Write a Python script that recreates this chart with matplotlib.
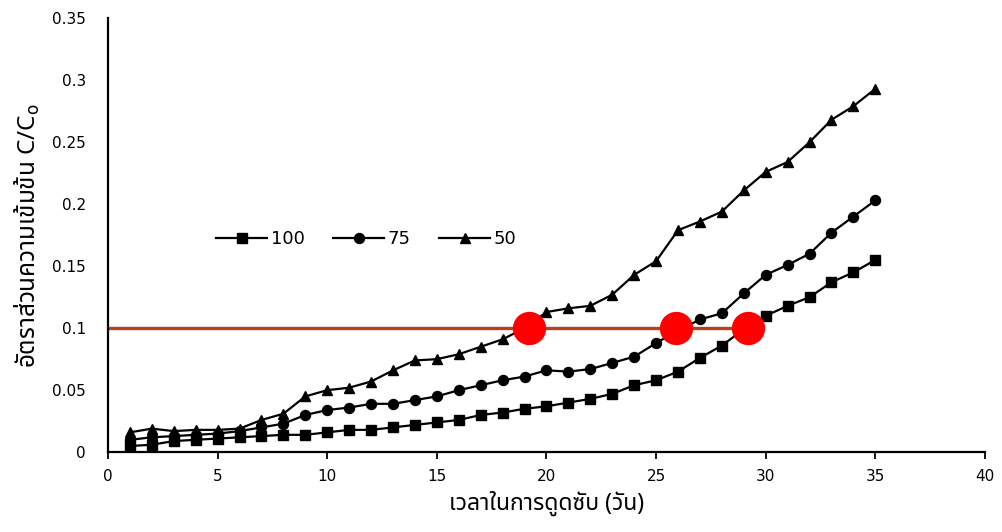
import matplotlib
matplotlib.use("Agg")
import matplotlib.pyplot as plt

plt.rcParams["font.family"] = ["DejaVu Sans"]
plt.rcParams["mathtext.fontset"] = "dejavusans"
THAI = ["Noto Sans Thai", "DejaVu Sans"]

# เวลา (วัน)
days = list(range(1, 36))

# อัตราส่วน C/Co อ่านจากกราฟ
c_100 = [0.005, 0.006, 0.009, 0.010, 0.011, 0.012, 0.013, 0.014, 0.014, 0.016,
         0.018, 0.018, 0.020, 0.022, 0.024, 0.026, 0.030, 0.032, 0.035, 0.037,
         0.040, 0.043, 0.047, 0.054, 0.058, 0.065, 0.076, 0.086, 0.099, 0.110,
         0.118, 0.125, 0.137, 0.145, 0.155]
c_75 = [0.010, 0.012, 0.013, 0.014, 0.015, 0.017, 0.020, 0.023, 0.030, 0.034,
        0.036, 0.039, 0.039, 0.042, 0.045, 0.050, 0.054, 0.058, 0.061, 0.066,
        0.065, 0.067, 0.072, 0.077, 0.088, 0.098, 0.107, 0.112, 0.128, 0.143,
        0.151, 0.160, 0.177, 0.190, 0.203]
c_50 = [0.016, 0.019, 0.017, 0.018, 0.018, 0.019, 0.026, 0.031, 0.045, 0.050,
        0.052, 0.057, 0.066, 0.074, 0.075, 0.079, 0.085, 0.091, 0.100, 0.113,
        0.116, 0.118, 0.127, 0.143, 0.154, 0.179, 0.186, 0.194, 0.211, 0.226,
        0.234, 0.250, 0.268, 0.279, 0.293]

# เส้นเกณฑ์ C/Co = 0.1 และจุดตัด
threshold = 0.1
cross_x = [19.2, 25.9, 29.2]
cross_y = [0.1, 0.1, 0.1]

fig = plt.figure(figsize=(10.03, 5.32), dpi=100)
ax = fig.add_axes([0.1077, 0.150, 0.8743, 0.816])

ax.plot([0, cross_x[-1]], [threshold, threshold], color="#B7411E", lw=2.4, zorder=1)

ax.plot(days, c_100, "k-", marker="s", ms=7.2, lw=1.6, label="100", zorder=3)
ax.plot(days, c_75, "k-", marker="o", ms=7.2, lw=1.6, label="75", zorder=3)
ax.plot(days, c_50, "k-", marker="^", ms=7.8, lw=1.6, label="50", zorder=3)

ax.plot(cross_x, cross_y, "o", color="#FF0000", ms=23, mec="#FF0000", zorder=4)

ax.set_xlim(0, 40)
ax.set_ylim(0, 0.35)
ax.set_xticks(range(0, 41, 5))
ax.set_yticks([0, 0.05, 0.1, 0.15, 0.2, 0.25, 0.3, 0.35])
ax.set_yticklabels(["0", "0.05", "0.1", "0.15", "0.2", "0.25", "0.3", "0.35"])
ax.spines["top"].set_visible(False)
ax.spines["right"].set_visible(False)
ax.spines["left"].set_linewidth(1.6)
ax.spines["bottom"].set_linewidth(1.6)
ax.tick_params(axis="x", direction="out", length=5, width=1.3, labelsize=11, pad=7)
ax.tick_params(axis="y", length=0, labelsize=11, pad=16)

ax.set_xlabel("เวลาในการดูดซับ (วัน)", family=THAI, fontsize=16.5, labelpad=5)
ax.set_ylabel("อัตราส่วนความเข้มข้น C/C$_\\mathrm{o}$", family=THAI, fontsize=17.5, labelpad=7)

ax.legend(loc="center left", bbox_to_anchor=(0.105, 0.49), ncol=3, frameon=False,
          fontsize=13, handlelength=2.8, handletextpad=0.2, columnspacing=1.6)

fig.savefig("out.png")
